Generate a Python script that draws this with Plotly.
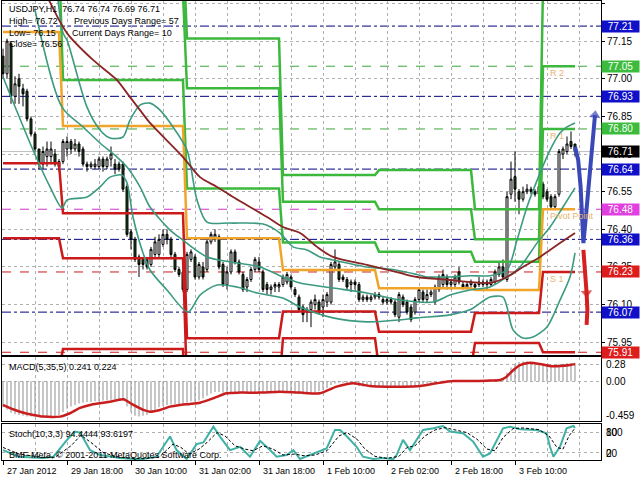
import plotly.graph_objects as go

# ---------------- data ----------------
n_bars = 144
bar_idx = list(range(n_bars))

opens = [77.09,77.02,77.14,76.93,77.00,76.96,76.95,76.84,76.78,76.72,
 76.66,76.69,76.69,76.70,76.67,76.67,76.72,76.75,76.72,76.74,
 76.72,76.66,76.65,76.65,76.65,76.68,76.65,76.68,76.66,76.66,
 76.66,76.57,76.39,76.36,76.29,76.28,76.28,76.26,76.30,76.30,
 76.34,76.38,76.36,76.30,76.24,76.23,76.16,76.28,76.29,76.21,
 76.25,76.24,76.35,76.36,76.37,76.26,76.18,76.23,76.31,76.27,
 76.22,76.17,76.20,76.24,76.27,76.23,76.18,76.16,76.17,76.17,
 76.18,76.19,76.21,76.16,76.13,76.09,76.07,76.08,76.10,76.11,
 76.09,76.11,76.11,76.25,76.26,76.21,76.20,76.18,76.19,76.18,
 76.12,76.13,76.12,76.13,76.14,76.12,76.11,76.12,76.11,76.05,
 76.13,76.11,76.09,76.07,76.12,76.15,76.12,76.14,76.11,76.16,
 76.18,76.21,76.18,76.18,76.23,76.18,76.17,76.18,76.18,76.18,
 76.18,76.18,76.18,76.19,76.22,76.25,76.20,76.54,76.61,76.55,
 76.52,76.55,76.56,76.55,76.54,76.58,76.55,76.53,76.49,76.54,
 76.70,76.71,76.75,76.74]
highs = [77.12,77.16,77.15,77.01,77.02,76.98,76.96,76.85,76.79,76.72,
 76.73,76.75,76.75,76.72,76.68,76.76,76.77,76.76,76.76,76.75,
 76.73,76.67,76.67,76.68,76.69,76.69,76.69,76.73,76.68,76.67,
 76.67,76.58,76.40,76.37,76.30,76.29,76.29,76.33,76.37,76.38,
 76.40,76.40,76.37,76.31,76.25,76.24,76.31,76.32,76.30,76.27,
 76.27,76.36,76.39,76.40,76.38,76.27,76.25,76.32,76.32,76.28,
 76.23,76.21,76.25,76.29,76.29,76.24,76.19,76.18,76.19,76.19,
 76.22,76.23,76.22,76.17,76.14,76.10,76.09,76.12,76.14,76.12,
 76.14,76.15,76.27,76.32,76.27,76.22,76.21,76.20,76.20,76.19,
 76.14,76.14,76.14,76.15,76.15,76.13,76.13,76.13,76.12,76.15,
 76.14,76.12,76.10,76.13,76.17,76.16,76.16,76.16,76.18,76.22,
 76.24,76.22,76.20,76.22,76.25,76.19,76.19,76.20,76.19,76.21,
 76.20,76.20,76.21,76.24,76.27,76.28,76.55,76.67,76.71,76.56,
 76.57,76.58,76.57,76.56,76.58,76.59,76.56,76.54,76.54,76.72,
 76.73,76.77,76.79,76.74]
lows = [77.00,77.00,76.90,76.90,76.90,76.89,76.83,76.77,76.71,76.64,
 76.64,76.65,76.66,76.65,76.63,76.66,76.69,76.70,76.71,76.69,
 76.65,76.63,76.64,76.64,76.64,76.63,76.64,76.65,76.62,76.63,
 76.55,76.37,76.32,76.27,76.21,76.24,76.24,76.25,76.29,76.29,
 76.33,76.34,76.29,76.23,76.21,76.15,76.15,76.27,76.20,76.20,
 76.20,76.23,76.34,76.35,76.24,76.17,76.16,76.22,76.26,76.22,
 76.15,76.15,76.19,76.23,76.23,76.15,76.14,76.14,76.15,76.15,
 76.17,76.18,76.16,76.13,76.07,76.03,76.03,76.01,76.08,76.06,
 76.05,76.09,76.10,76.24,76.19,76.19,76.16,76.15,76.16,76.11,
 76.11,76.11,76.11,76.12,76.12,76.10,76.10,76.10,76.05,76.03,
 76.09,76.06,76.03,76.06,76.11,76.11,76.11,76.13,76.10,76.15,
 76.17,76.16,76.16,76.17,76.18,76.16,76.16,76.17,76.16,76.17,
 76.17,76.16,76.17,76.18,76.21,76.20,76.19,76.52,76.51,76.46,
 76.51,76.54,76.54,76.53,76.53,76.52,76.51,76.48,76.48,76.53,
 76.68,76.70,76.72,76.69]
closes = [77.02,77.15,76.93,76.98,76.97,76.94,76.84,76.78,76.72,76.66,
 76.71,76.72,76.72,76.66,76.65,76.75,76.75,76.72,76.74,76.71,
 76.66,76.65,76.66,76.66,76.68,76.65,76.68,76.70,76.64,76.64,
 76.56,76.38,76.36,76.28,76.26,76.26,76.25,76.32,76.35,76.36,
 76.38,76.36,76.30,76.24,76.22,76.16,76.30,76.31,76.21,76.26,
 76.21,76.35,76.38,76.38,76.25,76.18,76.23,76.31,76.27,76.23,
 76.16,76.20,76.24,76.28,76.24,76.16,76.16,76.17,76.18,76.18,
 76.21,76.22,76.17,76.14,76.08,76.06,76.08,76.11,76.12,76.07,
 76.12,76.14,76.26,76.27,76.20,76.20,76.17,76.19,76.18,76.12,
 76.13,76.12,76.13,76.14,76.13,76.11,76.12,76.11,76.06,76.14,
 76.10,76.07,76.04,76.12,76.16,76.12,76.14,76.15,76.17,76.21,
 76.22,76.18,76.19,76.21,76.19,76.17,76.18,76.19,76.17,76.19,
 76.19,76.19,76.20,76.23,76.25,76.21,76.53,76.60,76.56,76.52,
 76.55,76.56,76.55,76.54,76.57,76.53,76.52,76.49,76.53,76.71,
 76.72,76.74,76.73,76.71]

x_tick_bars = [0, 16, 32, 48, 64, 80, 96, 112, 128]
x_tick_labels = ["27 Jan 2012", "29 Jan 18:00", "30 Jan 10:00", "31 Jan 02:00",
                 "31 Jan 18:00", "1 Feb 10:00", "2 Feb 02:00", "2 Feb 18:00", "3 Feb 10:00"]

price_ticks = [77.30, 77.15, 77.00, 76.85, 76.70, 76.55, 76.40, 76.25, 76.10, 75.95]

# daily pivot levels (step lines)
day_start = [0, 15, 46, 70, 94, 118, 135]
piv_R3 = [78.20, 77.53, 77.161, 76.616, 76.636, 76.480, 77.37]
piv_R2 = [78.01, 77.34, 76.962, 76.510, 76.480, 76.360, 77.05]
piv_R1 = [77.49, 76.995, 76.563, 76.347, 76.311, 76.271, 76.80]
piv_P  = [77.186, 76.812, 76.364, 76.238, 76.165, 76.158, 76.48]
piv_S1 = [76.663, 76.464, 75.966, 76.072, 75.992, 76.066, 76.23]
piv_S2 = [76.364, 76.285, 75.766, 75.966, 75.846, 75.947, 75.91]
piv_S3 = [75.84, 75.923, 75.37, 75.80, 75.70, 75.86, 75.66]

# current levels (full width lines + right labels)
level_vals = [77.21, 77.05, 76.93, 76.80, 76.64, 76.48, 76.36, 76.23, 76.07, 75.91]
level_kind = ["M", "R", "M", "R", "M", "P", "M", "S", "M", "S"]
bid_price = 76.71
pivot_names = ["R 2", "R 1", "Pivot Point", "S 1"]
pivot_name_vals = [77.05, 76.80, 76.48, 76.23]

# bands & moving average
bb_up_x = [13, 15, 16, 21, 24.25, 26.75, 30, 31.75, 34.25, 36.75, 39.25, 42.5, 46, 48.5, 51,
           56.75, 65, 69.25, 72.5, 76, 79.25, 82.5, 91, 97.5, 103.5, 106, 109.25, 111.75,
           116.75, 121.75, 126, 128.5, 131, 134.25, 136.75, 139.25, 141, 143]
bb_up_y = [77.43, 77.182, 77.154, 76.887, 76.796, 76.764, 76.768, 76.835, 76.895, 76.903,
           76.875, 76.808, 76.716, 76.517, 76.429, 76.425, 76.421, 76.385, 76.330, 76.318,
           76.290, 76.278, 76.250, 76.240, 76.220, 76.210, 76.210, 76.210, 76.215, 76.215,
           76.238, 76.357, 76.489, 76.624, 76.716, 76.784, 76.808, 76.824]
bb_mid_x = [8, 14.75, 20, 24.25, 28.5, 31, 34.25, 36.75, 41.75, 45, 47.5, 51, 56.75, 64.25,
            70, 74.25, 82.5, 91, 99.25, 107.5, 111.75, 116.75, 121.75, 126, 129.25, 133.5,
            136.75, 140, 143]
bb_mid_y = [77.274, 76.887, 76.808, 76.744, 76.688, 76.648, 76.569, 76.489, 76.397, 76.357,
            76.326, 76.290, 76.270, 76.250, 76.210, 76.186, 76.166, 76.146, 76.118, 76.110,
            76.138, 76.158, 76.170, 76.210, 76.250, 76.345, 76.409, 76.489, 76.565]
bb_lo_x = [0, 7.5, 11.75, 14.75, 16, 21, 24.25, 26.75, 29.75, 31, 32.5, 35, 36.75, 41, 46.25,
           49.25, 53.5, 58.5, 63.5, 70, 74.25, 82.5, 91, 99.25, 103.5, 111.75, 116.75, 121.75,
           125, 126, 127.5, 130, 132.5, 136, 139.25, 141.75, 143]
bb_lo_y = [77.007, 76.716, 76.569, 76.485, 76.517, 76.529, 76.569, 76.608, 76.616, 76.585,
           76.449, 76.306, 76.238, 76.158, 76.070, 76.138, 76.178, 76.170, 76.146, 76.126,
           76.090, 76.047, 76.031, 76.039, 76.047, 76.059, 76.079, 76.130, 76.130, 76.090,
           75.999, 75.967, 75.971, 76.011, 76.118, 76.210, 76.306]
ma_x = [11, 16, 22.5, 28.5, 31, 34.25, 36.75, 45, 49.25, 53.5, 57.5, 61.75, 66, 70, 74.25,
        78.5, 82.5, 91, 99.25, 103.5, 111.75, 116.75, 121.75, 126, 130, 134.25, 136.75, 139.25, 143]
ma_y = [77.33, 77.182, 77.075, 76.995, 76.943, 76.875, 76.824, 76.688, 76.608, 76.569, 76.529,
        76.489, 76.449, 76.409, 76.385, 76.330, 76.290, 76.258, 76.226, 76.210, 76.198, 76.190,
        76.186, 76.210, 76.250, 76.290, 76.318, 76.345, 76.385]

# forecast arrows on the right
fc_up_x = [143, 143.8, 144.4, 144.9, 145.1, 146.1, 146.75, 147.4, 148]
fc_up_y = [76.729, 76.676, 76.570, 76.450, 76.345, 76.517, 76.650, 76.756, 76.855]
fc_up_head = [0, 0, 0, 0, 0, 0, 0, 0, 10]
fc_dn_x = [145.1, 145.5, 145.75, 145.9, 146.1, 145.9]
fc_dn_y = [76.318, 76.251, 76.186, 76.146, 76.078, 76.019]
fc_dn_head = [0, 0, 0, 10, 0, 0]

# MACD(5,35,5)
macd_main = [-0.34,-0.37,-0.41,-0.43,-0.44,-0.45,-0.46,-0.46,-0.46,-0.46,
 -0.46,-0.46,-0.46,-0.45,-0.44,-0.40,-0.36,-0.33,-0.31,-0.29,
 -0.28,-0.27,-0.27,-0.26,-0.26,-0.25,-0.25,-0.24,-0.23,-0.23,
 -0.25,-0.33,-0.40,-0.45,-0.46,-0.45,-0.44,-0.41,-0.37,-0.34,
 -0.32,-0.31,-0.30,-0.30,-0.30,-0.31,-0.28,-0.26,-0.27,-0.25,
 -0.22,-0.19,-0.16,-0.14,-0.14,-0.15,-0.15,-0.14,-0.14,-0.14,
 -0.15,-0.15,-0.15,-0.14,-0.14,-0.14,-0.15,-0.15,-0.14,-0.14,
 -0.14,-0.14,-0.15,-0.16,-0.17,-0.17,-0.17,-0.16,-0.15,-0.13,
 -0.11,-0.09,-0.05,-0.03,-0.02,-0.02,-0.03,-0.04,-0.05,-0.06,
 -0.07,-0.07,-0.07,-0.07,-0.07,-0.07,-0.07,-0.07,-0.08,-0.07,
 -0.07,-0.07,-0.07,-0.06,-0.05,-0.04,-0.03,-0.02,-0.01,0.00,
 0.01,0.01,0.01,0.01,0.01,0.01,0.01,0.01,0.01,0.01,
 0.01,0.01,0.02,0.02,0.03,0.04,0.11,0.18,0.22,0.25,
 0.26,0.26,0.25,0.24,0.23,0.22,0.21,0.20,0.20,0.22,
 0.23,0.24,0.24,0.241]
macd_sig_x = [0, 1.75, 4.25, 7.6, 10, 14.25, 16.75, 19.25, 21.75, 24.25, 26.75, 30.1, 32.6,
              35.1, 36.75, 39.25, 41.75, 44.25, 46.75, 49.25, 52.6, 55.9, 59.25, 64.25, 69.25,
              74.25, 79.25, 83.4, 87.6, 91.75, 95.9, 100, 104.25, 108.4, 112.6, 116.75, 120.9,
              124.25, 125.9, 127.6, 129.25, 131.75, 134.25, 136.75, 139.25, 141.75, 143]
macd_sig_y = [-0.309, -0.351, -0.397, -0.440, -0.461, -0.461, -0.417, -0.348, -0.309, -0.287,
              -0.266, -0.235, -0.309, -0.374, -0.397, -0.374, -0.331, -0.309, -0.296, -0.279,
              -0.221, -0.156, -0.148, -0.148, -0.136, -0.148, -0.156, -0.070, -0.026, -0.061,
              -0.070, -0.070, -0.061, -0.026, 0.003, 0.003, 0.008, 0.017, 0.060, 0.147, 0.212,
              0.243, 0.226, 0.199, 0.199, 0.212, 0.224]

# Stochastic(10,3,3)
st_main_x = [0, 4, 10, 12.6, 16, 18, 19.25, 21.75, 24.25, 26.75, 29.25, 32.6, 35, 38.4, 41.75,
             43.4, 45.9, 48.4, 50.1, 52.6, 54.25, 56.75, 59.25, 61.75, 64.25, 66.75, 68.4, 70.9,
             72.6, 74.25, 76.75, 79.25, 80.9, 83, 84.25, 86, 88.4, 90, 92.6, 95, 97.6, 98.4, 100,
             101.75, 103.4, 105, 107.6, 110, 111.75, 115, 117.6, 120, 121.75, 123.4, 125, 126.75,
             129.25, 133.4, 135.9, 136.75, 137.6, 139.25, 140.9, 142.6, 143]
st_main_y = [27, 7, 3, 7, 58, 83, 80, 27, 12, 7, 3, 0, 0, 7, 68, 27, 0, 45, 50, 98, 68, 27, 37, 7,
             55, 27, 7, 12, 27, 0, 12, 22, 32, 88, 88, 68, 37, 7, 0, 3, 0, 12, 58, 27, 58, 88, 93,
             100, 83, 78, 52, 7, 17, 58, 93, 98, 90, 88, 78, 37, 7, 37, 93, 100, 94.4]
st_sig_x = [0, 4, 10, 13, 17, 19.5, 22, 25, 28, 31, 35, 39, 42.5, 44.5, 46.5, 49, 51, 53.5, 55.5,
            58, 60.5, 62.5, 65, 67.5, 70, 73, 75, 78, 81, 84, 86, 88.5, 90.5, 93, 96, 99, 101,
            103, 105.5, 108, 110.5, 112.5, 116, 118.5, 121, 123, 125, 127.5, 130, 134, 136.5,
            138.5, 140, 141.5, 143]
st_sig_y = [35, 15, 5, 5, 40, 72, 50, 20, 8, 3, 1, 5, 45, 35, 15, 30, 50, 80, 70, 40, 30, 25, 40,
            30, 12, 15, 10, 12, 25, 70, 80, 60, 30, 8, 2, 8, 35, 40, 70, 88, 95, 90, 80, 60, 30,
            25, 65, 92, 94, 89, 70, 35, 30, 70, 93.6]

# ---------------- styling ----------------
GREEN = "#3cb83c"
ORANGE = "#f0a52a"
RED = "#cc1a1a"
TEAL = "#3b9a80"
BROWN = "#8a2525"
GRID = "#b0b0b0"
FONT = "Liberation Sans"
TS = 9  # small text size

kind_line = {"M": ("#000080", "dashdot"), "R": ("#3aa83a", "dash"),
             "P": ("#cc33cc", "dash"), "S": ("#cc1a1a", "dash")}
kind_box = {"M": "#1010c8", "R": "#3cbc3c", "P": "#e040e0", "S": "#dd1c1c"}


def per_bar(levels):
    out = []
    for i in range(n_bars):
        d = max(k for k, s in enumerate(day_start) if s <= i)
        out.append(levels[d])
    return out


fig = go.Figure()

# pivot step lines
for lv, col in [(piv_R3, GREEN), (piv_R2, GREEN), (piv_R1, GREEN), (piv_P, ORANGE),
                (piv_S1, RED), (piv_S2, RED), (piv_S3, RED)]:
    fig.add_trace(go.Scatter(x=bar_idx, y=per_bar(lv), mode="lines",
                             line=dict(color=col, width=2.5), xaxis="x", yaxis="y"))

# candles
fig.add_trace(go.Candlestick(x=bar_idx, open=opens, high=highs, low=lows, close=closes,
                             increasing=dict(line=dict(color="black", width=1), fillcolor="white"),
                             decreasing=dict(line=dict(color="black", width=1), fillcolor="#1d4a1d"),
                             whiskerwidth=0, xaxis="x", yaxis="y"))

# bands and MA
for xs, ys in [(bb_up_x, bb_up_y), (bb_mid_x, bb_mid_y), (bb_lo_x, bb_lo_y)]:
    fig.add_trace(go.Scatter(x=xs, y=ys, mode="lines",
                             line=dict(color=TEAL, width=1.6, shape="spline", smoothing=0.8),
                             xaxis="x", yaxis="y"))
fig.add_trace(go.Scatter(x=ma_x, y=ma_y, mode="lines",
                         line=dict(color=BROWN, width=1.8, shape="spline", smoothing=0.8),
                         xaxis="x", yaxis="y"))

# forecast arrows
fig.add_trace(go.Scatter(x=fc_up_x, y=fc_up_y, mode="lines+markers",
                         line=dict(color="#3a48b8", width=4),
                         marker=dict(symbol="triangle-up", size=fc_up_head, color="#3a48b8",
                                     angleref="previous", line=dict(width=0)),
                         xaxis="x", yaxis="y"))
fig.add_trace(go.Scatter(x=fc_dn_x, y=fc_dn_y, mode="lines+markers",
                         line=dict(color="#d42020", width=4),
                         marker=dict(symbol="triangle-up", size=fc_dn_head, color="#d42020",
                                     angleref="previous", line=dict(width=0)),
                         xaxis="x", yaxis="y"))

# MACD
fig.add_trace(go.Bar(x=bar_idx, y=macd_main, width=0.3, marker=dict(color="#a0a0a0", line=dict(width=0)),
                     xaxis="x2", yaxis="y2"))
fig.add_trace(go.Scatter(x=macd_sig_x, y=macd_sig_y, mode="lines",
                         line=dict(color="#c81e1e", width=2.5, shape="spline", smoothing=0.6),
                         xaxis="x2", yaxis="y2"))

# Stochastic
fig.add_trace(go.Scatter(x=st_main_x, y=st_main_y, mode="lines",
                         line=dict(color="#3fb0a4", width=2), xaxis="x3", yaxis="y3"))
fig.add_trace(go.Scatter(x=st_sig_x, y=st_sig_y, mode="lines",
                         line=dict(color="black", width=1, dash="3px,2px"), xaxis="x3", yaxis="y3"))

XR = [-0.25, 149.5]
common_x = dict(range=XR, showticklabels=False, showgrid=True, gridcolor=GRID, griddash="3px,3px",
                gridwidth=1, tick0=0, dtick=8, zeroline=False, showline=True, mirror=True,
                linecolor="black", linewidth=1, fixedrange=True)

shapes = []
for v, k in zip(level_vals, level_kind):
    c, d = kind_line[k]
    shapes.append(dict(type="line", xref="paper", yref="y", x0=0, x1=1, y0=v, y1=v,
                       line=dict(color=c, width=1, dash=d), layer="below"))
shapes.append(dict(type="line", xref="paper", yref="y", x0=0, x1=1, y0=bid_price, y1=bid_price,
                   line=dict(color="#c0c0c0", width=1), layer="below"))

ann = []


def txt(x, y, s, size=TS, color="black", xref="paper", yref="paper", xanchor="left", yanchor="middle"):
    ann.append(dict(x=x, y=y, xref=xref, yref=yref, text=s, showarrow=False, xanchor=xanchor,
                    yanchor=yanchor, font=dict(family=FONT, size=size, color=color)))


def px_x(p):
    return (p - 2) / 599.0


def px_y(p):
    return (461 - p) / 460.0


txt(px_x(7), px_y(9), "USDJPY,H1  76.74 76.74 76.69 76.71")
txt(px_x(7), px_y(21), "High= 76.72")
txt(px_x(72), px_y(21), "Previous Days Range= 57")
txt(px_x(7), px_y(33), "Low= 76.15")
txt(px_x(70), px_y(33), "Current Days Range= 10")
txt(px_x(7), px_y(44), "Close= 76.56")
txt(px_x(7), px_y(367), "MACD(5,35,5) 0.241 0.224")
txt(px_x(7), px_y(434), "Stoch(10,3,3) 94.4444 93.6197")
txt(px_x(7), px_y(455), "BMF-Meta, © 2001-2011 MetaQuotes Software Corp.")

for b, s in zip(x_tick_bars, x_tick_labels):
    txt(b + 0.4, px_y(471), s, xref="x3")

# pivot names
for s, v in zip(pivot_names, pivot_name_vals):
    txt(136.3, v, s, color="#e8b470", xref="x", yref="y", yanchor="top")

# right side colored labels
for v, k in zip(level_vals, level_kind):
    ann.append(dict(x=1.0, y=v, xref="paper", yref="y", text="%.2f" % v, showarrow=False,
                    xanchor="left", yanchor="middle", bgcolor=kind_box[k], width=37, height=11,
                    borderpad=0, align="center", font=dict(family=FONT, size=10, color="white")))
ann.append(dict(x=1.0, y=bid_price, xref="paper", yref="y", text="%.2f" % bid_price, showarrow=False,
                xanchor="left", yanchor="middle", bgcolor="black", width=37, height=11,
                borderpad=0, align="center", font=dict(family=FONT, size=10, color="white")))

# MACD and stoch scale labels
txt(1.005, 0.213, "0.28", size=10, xref="paper", yref="y2")
txt(1.005, 0.0, "0.00", size=10, xref="paper", yref="y2")
txt(1.005, -0.44, "-0.459", size=10, xref="paper", yref="y2")
txt(1.005, 80, "100", size=10, xref="paper", yref="y3")
txt(1.005, 80, "80", size=10, xref="paper", yref="y3")
txt(1.005, 18, "20", size=10, xref="paper", yref="y3")
txt(1.005, 18, "0", size=10, xref="paper", yref="y3")

fig.update_layout(
    width=640, height=480, margin=dict(l=2, r=39, t=1, b=19),
    paper_bgcolor="white", plot_bgcolor="white", showlegend=False, hovermode=False,
    font=dict(family=FONT, size=10, color="black"),
    xaxis=dict(common_x, anchor="y", rangeslider=dict(visible=False)),
    xaxis2=dict(common_x, anchor="y2", matches="x"),
    xaxis3=dict(common_x, anchor="y3", matches="x", ticks="outside", ticklen=4, tickcolor="black",
                tickvals=x_tick_bars, minor=dict(dtick=8, tick0=0, showgrid=True, gridcolor=GRID,
                                                  griddash="3px,3px")),
    yaxis=dict(domain=[0.2304, 1.0], range=[75.899, 77.310], side="right", tickvals=price_ticks,
               ticktext=["%.2f" % t for t in price_ticks], ticks="outside", ticklen=3,
               tickcolor="black", tickfont=dict(size=10, family=FONT), showgrid=True,
               gridcolor=GRID, griddash="3px,3px", zeroline=False, showline=True, mirror=True,
               linecolor="black", fixedrange=True),
    yaxis2=dict(domain=[0.0870, 0.2261], range=[-0.518, 0.317], side="right", tickvals=[0.213, 0.0],
                showticklabels=False, showgrid=True, gridcolor=GRID, griddash="3px,3px",
                zeroline=False, showline=True, mirror=True, linecolor="black", fixedrange=True),
    yaxis3=dict(domain=[0.0022, 0.0804], range=[-3, 106], side="right", tickvals=[20, 80],
                showticklabels=False, showgrid=True, gridcolor=GRID, griddash="3px,3px",
                zeroline=False, showline=True, mirror=True, linecolor="black", fixedrange=True),
    shapes=shapes, annotations=ann,
)

fig.write_html("out.html", config={"staticPlot": True},
               post_script="document.body.style.margin='0px';document.body.style.padding='0px';"
                           "document.body.style.overflow='hidden';")
